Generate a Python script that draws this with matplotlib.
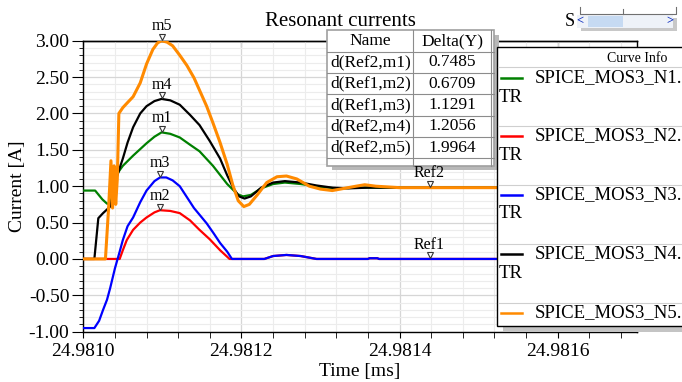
import numpy as np
import matplotlib
matplotlib.use("Agg")
import matplotlib.pyplot as plt
from matplotlib.patches import Rectangle
from matplotlib.ticker import MultipleLocator, FormatStrFormatter
from matplotlib.transforms import offset_copy

plt.rcParams['font.family'] = ['Liberation Serif', 'DejaVu Serif']

# data: time offsets in us after 24.981 ms, current in A
T0 = 24.981

t_n1 = [0, 0.015, 0.024, 0.030, 0.034, 0.038, 0.040, 0.046, 0.050, 0.063, 0.080, 0.090, 0.099,
        0.110, 0.122, 0.135, 0.147, 0.164, 0.182, 0.195, 0.202, 0.212, 0.225, 0.240, 0.255,
        0.275, 0.300, 0.320, 0.350, 0.700]
i_n1 = [0.94, 0.94, 0.82, 0.76, 0.76, 0.95, 1.12, 1.22, 1.28, 1.42, 1.59, 1.68, 1.74,
        1.72, 1.67, 1.57, 1.48, 1.28, 1.03, 0.89, 0.86, 0.88, 0.97, 1.03, 1.05,
        1.03, 0.99, 0.97, 0.98, 0.98]

t_n2 = [0, 0.046, 0.050, 0.055, 0.063, 0.072, 0.080, 0.090, 0.097, 0.110, 0.122, 0.135,
        0.147, 0.160, 0.173, 0.185, 0.229, 0.240, 0.257, 0.275, 0.295, 0.360, 0.362,
        0.372, 0.374, 0.700]
i_n2 = [0, 0, 0.12, 0.26, 0.40, 0.50, 0.57, 0.64, 0.67, 0.66, 0.63, 0.53,
        0.40, 0.27, 0.12, 0.0, 0.0, 0.04, 0.055, 0.04, 0.0, 0.0, 0.01,
        0.01, 0.0, 0.0]

t_n3 = [0, 0.014, 0.020, 0.025, 0.030, 0.034, 0.040, 0.046, 0.050, 0.056, 0.063, 0.072,
        0.080, 0.090, 0.097, 0.105, 0.113, 0.122, 0.131, 0.140, 0.156, 0.165, 0.173,
        0.182, 0.188, 0.229, 0.240, 0.257, 0.275, 0.295, 0.360, 0.362, 0.372, 0.374, 0.700]
i_n3 = [-0.95, -0.95, -0.85, -0.70, -0.56, -0.40, -0.13, 0.10, 0.26, 0.45, 0.57, 0.78,
        0.94, 1.07, 1.12, 1.12, 1.08, 1.00, 0.85, 0.70, 0.49, 0.35, 0.22,
        0.10, 0.0, 0.0, 0.04, 0.055, 0.04, 0.0, 0.0, 0.01, 0.01, 0.0, 0.0]

t_n4 = [0, 0.014, 0.019, 0.025, 0.030, 0.034, 0.038, 0.040, 0.046, 0.050, 0.056, 0.063,
        0.072, 0.080, 0.090, 0.099, 0.110, 0.122, 0.135, 0.147, 0.160, 0.173, 0.182,
        0.190, 0.197, 0.204, 0.212, 0.225, 0.240, 0.255, 0.275, 0.295, 0.315, 0.335,
        0.360, 0.700]
i_n4 = [0.0, 0.0, 0.56, 0.63, 0.68, 0.72, 0.92, 1.04, 1.25, 1.38, 1.60, 1.81,
        2.00, 2.10, 2.17, 2.20, 2.18, 2.12, 1.98, 1.84, 1.62, 1.38, 1.15,
        0.97, 0.86, 0.83, 0.86, 0.98, 1.05, 1.07, 1.05, 1.01, 0.98, 0.97,
        0.98, 0.98]

t_n5 = [0, 0.028, 0.032, 0.035, 0.037, 0.039, 0.041, 0.043, 0.045, 0.050, 0.056, 0.063,
        0.072, 0.080, 0.088, 0.094, 0.099, 0.106, 0.113, 0.122, 0.131, 0.140, 0.147,
        0.156, 0.164, 0.173, 0.182, 0.189, 0.196, 0.203, 0.210, 0.220, 0.232, 0.245,
        0.257, 0.270, 0.286, 0.300, 0.315, 0.330, 0.345, 0.356, 0.370, 0.400, 0.700]
i_n5 = [0.0, 0.0, 0.70, 1.35, 0.70, 1.28, 0.75, 1.10, 2.00, 2.08, 2.15, 2.23,
        2.42, 2.68, 2.88, 2.97, 3.00, 2.98, 2.93, 2.80, 2.66, 2.49, 2.32,
        2.10, 1.87, 1.60, 1.30, 1.02, 0.80, 0.72, 0.75, 0.88, 1.05, 1.13,
        1.14, 1.10, 1.00, 0.96, 0.94, 0.97, 1.00, 1.02, 1.00, 0.98, 0.98]

curve_names = ["SPICE_MOS3_N1.", "SPICE_MOS3_N2.", "SPICE_MOS3_N3.", "SPICE_MOS3_N4.", "SPICE_MOS3_N5."]
curve_colors = ["#008000", "#ff0000", "#0000ff", "#000000", "#ff8a00"]

marker_names = ["m1", "m2", "m3", "m4", "m5", "Ref1", "Ref2"]
marker_t = [0.099, 0.097, 0.097, 0.099, 0.099, 0.438, 0.438]
marker_i = [1.74, 0.67, 1.12, 2.20, 3.00, 0.0, 0.98]

table_names = ["d(Ref2,m1)", "d(Ref1,m2)", "d(Ref1,m3)", "d(Ref2,m4)", "d(Ref2,m5)"]
table_deltas = ["0.7485", "0.6709", "1.1291", "1.2056", "1.9964"]

fig = plt.figure(figsize=(6.82, 3.82), dpi=100)
ax = fig.add_axes([83.3 / 682, 1 - 331.7 / 382, 553.4 / 682, 291 / 382])

series = [(t_n1, i_n1), (t_n2, i_n2), (t_n3, i_n3), (t_n4, i_n4), (t_n5, i_n5)]
for k, (tt, ii) in enumerate(series):
    lw = 2.2 if k == 4 else 1.6
    ax.plot(T0 + np.array(tt) * 1e-3, ii, color=curve_colors[k], lw=lw, zorder=3 + k)

ax.set_xlim(24.9810, 24.9817)
ax.set_ylim(-1.0, 3.0)
ax.xaxis.set_major_locator(MultipleLocator(0.0002))
ax.xaxis.set_minor_locator(MultipleLocator(0.00004))
ax.xaxis.set_major_formatter(FormatStrFormatter('%.4f'))
ax.yaxis.set_major_locator(MultipleLocator(0.5))
ax.yaxis.set_minor_locator(MultipleLocator(0.1))
ax.yaxis.set_major_formatter(FormatStrFormatter('%.2f'))
ax.grid(which='major', color='#d6d6d6', lw=0.9)
ax.grid(which='minor', color='#ececec', lw=0.8)
ax.set_axisbelow(True)
ax.tick_params(axis='y', which='major', length=8, labelsize=14, pad=2)
ax.tick_params(axis='y', which='minor', length=3)
ax.tick_params(axis='x', which='both', length=4, labelsize=14, pad=4, direction='out')
for s in ax.spines.values():
    s.set_linewidth(1.0)

# inward ticks along the top edge
top = ax.secondary_xaxis('top')
top.xaxis.set_major_locator(MultipleLocator(0.0002))
top.xaxis.set_minor_locator(MultipleLocator(0.00004))
top.tick_params(which='both', direction='in', length=4, labeltop=False)
top.spines['top'].set_linewidth(1.0)

ax.set_xlabel("Time [ms]", fontsize=14, labelpad=2)
ax.set_ylabel("Current [A]", fontsize=14, va='center')
ax.yaxis.set_label_coords(-0.118, 0.5)

# overlay in pixel coords for title, table, legend panel and scroll widget
ov = fig.add_axes([0, 0, 1, 1], zorder=20)
ov.set_xlim(0, 682)
ov.set_ylim(382, 0)
ov.axis('off')
ov.patch.set_alpha(0)

ov.text(340, 21, "Resonant currents", ha='center', va='center', fontsize=15)

# delta table
ov.add_patch(Rectangle((332, 35), 167, 135, fc='#b8b8b8', ec='none'))
ov.add_patch(Rectangle((327, 30), 167, 136, fc='white', ec='#a0a0a0', lw=1.2))
row_y = [30, 52, 73, 94, 116, 137, 158]
for y in row_y[1:]:
    ov.plot([327, 494], [y, y], color='#8c8c8c', lw=0.8)
ov.plot([413, 413], [30, 166], color='#8c8c8c', lw=0.8)
ov.plot([491, 491], [30, 166], color='#8c8c8c', lw=0.8)
ov.text(370, 41, "Name", ha='center', va='center', fontsize=12.5)
ov.text(452, 41, "Delta(Y)", ha='center', va='center', fontsize=12.5)
for k in range(len(table_names)):
    yc = (row_y[k + 1] + row_y[k + 2]) / 2
    ov.text(371, yc, table_names[k], ha='center', va='center', fontsize=12.5)
    ov.text(452, yc, table_deltas[k], ha='center', va='center', fontsize=12.5)

# markers: small open triangles with names above (drawn over the table shadow)
tri_tr = offset_copy(ax.transData, fig=fig, y=3.5, units='dots')
for name, tm, im in zip(marker_names, marker_t, marker_i):
    ov.plot(T0 + tm * 1e-3, im, marker='v', ms=5, mfc='white', mec='#333333', mew=0.8,
            transform=tri_tr, zorder=10, clip_on=False)
    ov.annotate(name, (T0 + tm * 1e-3, im), xycoords=ax.transData, xytext=(0, 4.5),
                textcoords='offset points', ha='center', va='bottom', fontsize=11.5,
                zorder=10, annotation_clip=False)

# curve info panel
ov.add_patch(Rectangle((503, 53), 190, 279, fc='#c4c4c4', ec='none'))
ov.add_patch(Rectangle((497, 47), 200, 279, fc='white', ec='black', lw=1.0))
ov.text(637, 58, "Curve Info", ha='center', va='center', fontsize=10)
ov.plot([498, 682], [67, 67], color='#cfcfcf', lw=0.8)
entry_y = [78, 136, 195, 254, 313]
for k, name in enumerate(curve_names):
    yl = entry_y[k]
    ov.plot([501, 522], [yl, yl], color=curve_colors[k], lw=1.8)
    ov.text(535, yl, name, ha='left', va='center', fontsize=13.5)
    if k < 4:
        ov.text(499, yl + 19, "TR", ha='left', va='center', fontsize=13.5)
        ov.plot([498, 682], [entry_y[k + 1] - 10] * 2, color='#cfcfcf', lw=0.8)

# scroll widget at top right
ov.text(575, 21, "S", ha='right', va='center', fontsize=13)
ov.add_patch(Rectangle((581, 18), 96, 13, fc='#c8c8c8', ec='none'))
ov.add_patch(Rectangle((577, 15), 96, 13, fc='#eef2f8', ec='none'))
ov.add_patch(Rectangle((588, 16), 35, 11, fc='#c6daf2', ec='none'))
ov.text(580, 21.5, "<", ha='center', va='center', fontsize=9, color='#1030c0', weight='bold')
ov.text(670, 21.5, ">", ha='center', va='center', fontsize=9, color='#1030c0', weight='bold')
ov.plot([580, 580, 676, 676], [7, 14, 14, 7], color='#707070', lw=0.8)
ov.plot([623, 623], [9, 14], color='#707070', lw=0.8)

fig.savefig("out.png", dpi=100)
